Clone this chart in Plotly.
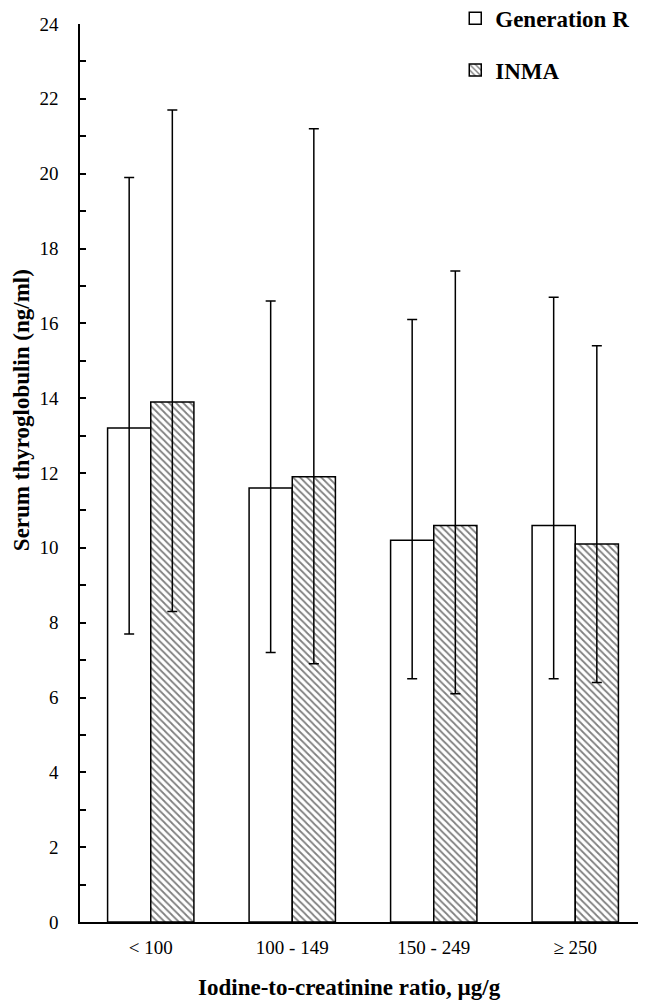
import plotly.graph_objects as go

categories = ["< 100", "100 - 149", "150 - 249", "\u2265 250"]

genr_median = [13.2, 11.6, 10.2, 10.6]
genr_low = [7.7, 7.2, 6.5, 6.5]
genr_high = [19.9, 16.6, 16.1, 16.7]

inma_median = [13.9, 11.9, 10.6, 10.1]
inma_low = [8.3, 6.9, 6.1, 6.4]
inma_high = [21.7, 21.2, 17.4, 15.4]

FONT = "Liberation Serif"


def err(med, lo, hi):
    return dict(
        type="data", symmetric=False,
        array=[h - m for m, h in zip(med, hi)],
        arrayminus=[m - l for m, l in zip(med, lo)],
        color="black", thickness=1.5, width=5,
    )


fig = go.Figure()

fig.add_trace(go.Bar(
    x=categories, y=genr_median, name="Generation R",
    legendgroup="a",
    marker=dict(color="white", line=dict(color="black", width=1.5)),
    error_y=err(genr_median, genr_low, genr_high),
))

fig.add_trace(go.Bar(
    x=categories, y=inma_median, name="INMA",
    legendgroup="b",
    marker=dict(
        color="white",
        line=dict(color="black", width=1.5),
        pattern=dict(shape="\\", fgcolor="black", bgcolor="white", size=5, solidity=0.35),
    ),
    error_y=err(inma_median, inma_low, inma_high),
))

# page body has an 8px margin, so the figure is 8px smaller than the window
fig.update_layout(
    width=638, height=994,
    margin=dict(l=72, r=0, t=16, b=80, autoexpand=False),
    paper_bgcolor="white", plot_bgcolor="white",
    barmode="group", bargap=0.39, bargroupgap=0,
    font=dict(family=FONT, color="black", size=19),
    legend=dict(
        x=0.663, y=1.0304, xanchor="left", yanchor="top",
        font=dict(family=FONT, size=23, color="black", weight="bold"),
        traceorder="grouped", tracegroupgap=19,
        bgcolor="rgba(0,0,0,0)",
    ),
    annotations=[
        dict(text="<b>Iodine-to-creatinine ratio, \u00b5g/g</b>",
             xref="paper", yref="paper", x=0.477, y=-0.0724,
             xanchor="center", yanchor="middle", showarrow=False,
             font=dict(family=FONT, size=23, color="black")),
        dict(text="<b>Serum thyroglobulin (ng/ml)</b>",
             xref="paper", yref="paper", x=-0.1042, y=0.57, textangle=-90,
             xanchor="center", yanchor="middle", showarrow=False,
             font=dict(family=FONT, size=23, color="black")),
    ],
)

fig.update_xaxes(
    automargin=False,
    showline=True, linecolor="black", linewidth=1.5,
    ticks="", showgrid=False, ticklabelstandoff=7,
    tickfont=dict(family=FONT, size=19),
)

fig.update_yaxes(
    automargin=False,
    range=[0, 24], dtick=2, showgrid=False, zeroline=False,
    showline=True, linecolor="black", linewidth=1.5,
    ticks="inside", ticklen=6, tickwidth=1.5, tickcolor="black",
    ticklabelstandoff=16,
    minor=dict(dtick=1, ticks="inside", ticklen=6, tickwidth=1.5, tickcolor="black"),
    tickfont=dict(family=FONT, size=19),
)

fig.write_html("out.html")
